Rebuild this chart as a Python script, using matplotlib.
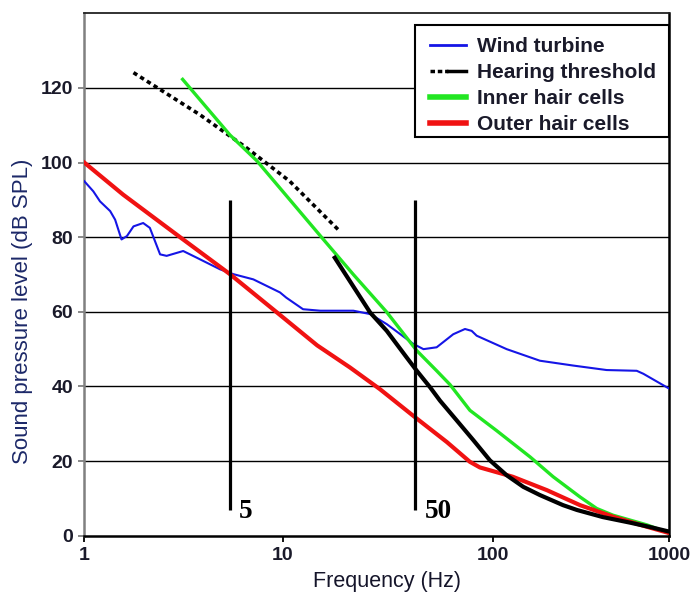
import numpy as np
import matplotlib
matplotlib.use("Agg")
import matplotlib.pyplot as plt
from matplotlib.lines import Line2D
from matplotlib.patches import Rectangle
from matplotlib.legend_handler import HandlerTuple
from matplotlib.ticker import FixedLocator, FixedFormatter, NullLocator

# ---------------- data ----------------
wind_f = [1.0, 1.11, 1.20, 1.35, 1.43, 1.54, 1.64, 1.77, 1.98, 2.14, 2.41, 2.60, 3.15, 3.69,
          4.83, 5.64, 7.11, 9.69, 10.4, 12.5, 15.1, 21.7, 26.1, 31.3, 41.9, 46.8, 54.1,
          64.9, 73.8, 79.4, 83.9, 120, 185, 286, 442, 654, 713, 1000]
wind_db = [95.0, 92.3, 89.6, 87.0, 84.7, 79.4, 80.3, 82.9, 83.8, 82.5, 75.4, 75.0, 76.3, 74.5,
           71.4, 70.1, 68.7, 65.2, 63.8, 60.7, 60.3, 60.3, 59.4, 56.7, 51.4, 50.0, 50.5,
           54.0, 55.4, 54.9, 53.6, 50.0, 46.9, 45.6, 44.4, 44.2, 43.4, 39.4]

thr_low_f = [1.77, 3.83, 6.59, 10.8, 14.5, 18.7]
thr_low_db = [124.1, 112.8, 103.9, 95.0, 87.8, 81.6]
thr_high_f = [17.7, 26.1, 31.3, 38.9, 43.5, 50.3, 56.1, 67.4, 80.9, 97, 120, 149, 185, 250,
              300, 420, 600, 800, 1000]
thr_high_db = [74.5, 59.8, 54.9, 47.8, 44.2, 39.8, 36.2, 30.9, 25.6, 20.2, 16.2, 13.1, 10.9,
               8.2, 6.9, 5.0, 3.5, 2.2, 1.1]

ihc_f = [3.13, 5.42, 7.40, 15.3, 21.7, 31.2, 43.5, 54.1, 62.6, 77.9, 105, 163, 220, 312,
         388, 480, 747, 1000]
ihc_db = [122.3, 107.4, 100.5, 80.0, 70.0, 60.0, 49.6, 44.2, 40.5, 33.6, 28.2, 21.1, 15.8,
          10.4, 7.3, 5.5, 2.9, 0.7]

ohc_f = [1.0, 1.57, 3.04, 5.42, 9.47, 14.6, 20.9, 29.0, 41.7, 60.5, 77.9, 86.9, 130, 203,
         312, 480, 747, 1000]
ohc_db = [100.0, 91.4, 80.0, 70.1, 59.6, 51.0, 45.1, 39.3, 32.2, 25.1, 19.8, 18.3, 15.8,
          12.2, 8.2, 5.1, 2.4, 0.7]

marker_f = [5.42, 42.6]
marker_labels = ["5", "50"]
marker_label_f = [6.0, 47.5]

x_ticks = [1, 10, 100, 1000]
x_ticklabels = ["1", "10", "100", "1000"]
y_ticks = [0, 20, 40, 60, 80, 100, 120]
series_labels = ["Wind turbine", "Hearing threshold", "Inner hair cells", "Outer hair cells"]

# ---------------- scale (decades of unequal width, as in the original) ----------------
_dec = np.array([-1, 0, 1, 2, 3, 4], dtype=float)
_pos = np.array([-198.4, 0, 198.4, 408.4, 585.0, 761.6])


def fwd(x):
    x = np.asarray(x, dtype=float)
    return np.interp(np.log10(np.clip(x, 1e-3, None)), _dec, _pos)


def inv(p):
    p = np.asarray(p, dtype=float)
    return 10 ** np.interp(p, _pos, _dec)


plt.rcParams['font.family'] = ['Liberation Sans', 'DejaVu Sans']

BLUE = '#1515e6'
GREEN = '#22e622'
RED = '#f01212'

fig = plt.figure(figsize=(6.91, 5.94), dpi=100)
ax = fig.add_axes([0.1220, 0.0981, 0.8466, 0.8795])
ax.set_xscale('function', functions=(fwd, inv))
ax.set_xlim(1, 1000)
ax.set_ylim(0, 140)

for y in y_ticks[1:]:
    ax.axhline(y, color='black', lw=1.0, zorder=1)

ax.plot(wind_f, wind_db, color=BLUE, lw=1.5, zorder=3)
ax.plot(thr_low_f, thr_low_db, color='black', lw=2.6, dashes=(1.2, 1.0), zorder=3)
ax.plot(thr_high_f, thr_high_db, color='black', lw=3.0, zorder=4)
ax.plot(ihc_f, ihc_db, color=GREEN, lw=2.4, zorder=3)
ax.plot(ohc_f, ohc_db, color=RED, lw=3.0, zorder=3)

ax.vlines(marker_f, 6.9, 90.0, color='black', lw=2.3, zorder=5)
for f, lab in zip(marker_label_f, marker_labels):
    ax.text(f, 6.5, lab, fontsize=19.5, fontweight='bold', family='Liberation Serif',
            va='center', ha='left', color='black', zorder=6)

ax.xaxis.set_major_locator(FixedLocator(x_ticks))
ax.xaxis.set_major_formatter(FixedFormatter(x_ticklabels))
ax.xaxis.set_minor_locator(NullLocator())
ax.set_yticks(y_ticks)
ax.tick_params(axis='both', which='major', labelsize=14, length=4, width=1.3,
               direction='out', colors='black', pad=4)
ax.tick_params(axis='y', color='#808080')
for t in ax.get_xticklabels() + ax.get_yticklabels():
    t.set_fontweight('bold')
    t.set_color('#1a1a2a')

ax.spines['left'].set_color('#808080')
ax.spines['left'].set_linewidth(1.8)
ax.spines['bottom'].set_linewidth(1.8)
ax.spines['right'].set_linewidth(1.8)
ax.spines['top'].set_linewidth(1.3)
ax.spines['top'].set_color('#222222')

ax.set_xlabel('Frequency (Hz)', fontsize=15.5, color='#15152a')
ax.xaxis.set_label_coords(0.518, -0.068)
ax.set_ylabel('Sound pressure level (dB SPL)', fontsize=16, color='#1c2868')
ax.yaxis.set_label_coords(-0.088, 0.43)

# legend frame drawn as its own box, entries placed inside it
frame = Rectangle((0.5653, 0.7632), 0.4347, 0.2144, transform=ax.transAxes,
                  facecolor='white', edgecolor='black', lw=1.5, zorder=9, clip_on=False)
ax.add_patch(frame)

h_wind = Line2D([], [], color=BLUE, lw=2)
h_thr_a = Line2D([], [], color='black', lw=2.5, dashes=(1.3, 0.8))
h_thr_b = Line2D([], [], color='black', lw=2.5)
h_ihc = Line2D([], [], color=GREEN, lw=4)
h_ohc = Line2D([], [], color=RED, lw=4)
leg = ax.legend([h_wind, (h_thr_a, h_thr_b), h_ihc, h_ohc], series_labels,
                handler_map={tuple: HandlerTuple(ndivide=None, pad=0)},
                loc='upper left', bbox_to_anchor=(0.591, 0.9545), borderaxespad=0,
                frameon=False,
                prop={'family': 'Liberation Sans', 'weight': 'bold', 'size': 15},
                handlelength=1.73, handletextpad=0.51, labelspacing=0.34, borderpad=0)
leg.set_zorder(10)
for t in leg.get_texts():
    t.set_color('#1a1a2a')

fig.savefig('out.png', dpi=100)
